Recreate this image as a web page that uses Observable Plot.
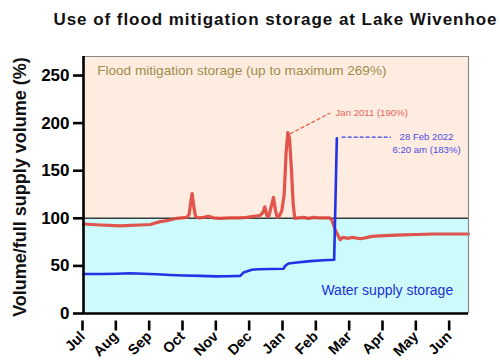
<!DOCTYPE html>
<html><head><meta charset="utf-8">
<script src="https://cdn.jsdelivr.net/npm/d3@7"></script>
<script src="https://cdn.jsdelivr.net/npm/@observablehq/plot@0.6"></script>
<style>
body{margin:0;background:#fff;font-family:"Liberation Sans",Arial,sans-serif;}
#title{width:449px;padding-left:51px;height:40px;line-height:40px;text-align:center;font-weight:bold;font-size:17px;letter-spacing:0.95px;color:#111;white-space:nowrap}
</style></head><body>
<div id="title">Use of flood mitigation storage at Lake Wivenhoe</div>
<div id="chart"></div>
<script>
const monthLabels = ["Jul","Aug","Sep","Oct","Nov","Dec","Jan","Feb","Mar","Apr","May","Jun"];
const yTicks = [0, 50, 100, 150, 200, 250];
const fullSupply = 100;
const yMax = 270;
const xMax = 11.55;

// 2010-11 (Jan 2011 flood), x in months from 1 July
const floodMonths = [0.00,0.25,0.50,0.80,1.10,1.40,1.70,2.00,2.30,2.50,2.80,3.10,3.17,3.22,3.26,3.31,3.36,3.45,3.60,3.75,3.90,4.10,4.40,4.70,4.90,5.10,5.30,5.38,5.44,5.50,5.56,5.63,5.70,5.76,5.81,5.88,5.95,6.02,6.08,6.13,6.18,6.24,6.29,6.34,6.45,6.60,6.75,6.90,7.05,7.20,7.38,7.45,7.55,7.70,7.78,7.86,7.95,8.05,8.15,8.30,8.45,8.65,8.90,9.20,9.60,10.00,10.50,11.00,11.55];
const floodValues = [94,93.5,93,92.5,92,92.5,93,93.5,96.5,97.5,100,101,104,118,126,112,102,100.5,101,102,100.5,100,100.5,100.5,101,102,103,106,112,103,102,112,122,108,101,103,108,125,170,190,184,150,115,100,100.5,101,100,101,100.5,100.5,100.5,98,88,77.5,80,79.5,79,80,79.5,78.5,79.5,81,81.5,82,82.5,83,83.5,83.5,83.5];

// 2021-22 (to 28 Feb 2022)
const currentMonths = [0.00,0.50,1.00,1.40,1.80,2.20,2.60,3.00,3.50,4.00,4.30,4.70,4.80,5.05,5.25,5.60,6.00,6.05,6.15,6.40,6.80,7.20,7.52,7.60];
const currentValues = [41.5,41.5,41.8,42.3,41.8,41.2,40.5,40,39.5,39,39.2,39.5,43,46,46.5,46.8,47,50,52.5,53.5,55,56,56.5,184];

const flood = floodMonths.map((m, i) => ({month: m, value: floodValues[i]}));
const current = currentMonths.map((m, i) => ({month: m, value: currentValues[i]}));
const monthIndex = monthLabels.map((_, i) => i);

const chart = Plot.plot({
  width: 500,
  height: 322,
  marginTop: 16,
  marginBottom: 49,
  marginLeft: 83,
  marginRight: 32,
  style: {fontFamily: "'Liberation Sans', Arial, sans-serif", background: "transparent", overflow: "visible"},
  x: {domain: [0, xMax]},
  y: {domain: [0, yMax]},
  marks: [
    Plot.rect([{lo: fullSupply, hi: yMax}], {x1: 0, x2: xMax, y1: "lo", y2: "hi", fill: "#fdecdf"}),
    Plot.rect([{lo: 0, hi: fullSupply}], {x1: 0, x2: xMax, y1: "lo", y2: "hi", fill: "#cdfbfc"}),
    Plot.ruleY([fullSupply], {stroke: "#3a3a3a", strokeWidth: 1.5}),
    Plot.line(flood, {x: "month", y: "value", stroke: "#e0463f", strokeWidth: 3.2, strokeOpacity: 0.92}),
    Plot.line(current, {x: "month", y: "value", stroke: "#2232e6", strokeWidth: 2.6}),
    Plot.line([{x: 6.21, y: 189}, {x: 7.39, y: 210.4}], {x: "x", y: "y", stroke: "#e8625c", strokeWidth: 1.3, strokeDasharray: "3,3"}),
    Plot.text([{x: 7.56, y: 210.4}], {x: "x", y: "y", text: () => "Jan 2011 (190%)", textAnchor: "start", fill: "#e8625c", fontSize: 9.6}),
    Plot.line([{x: 7.76, y: 185.2}, {x: 9.21, y: 185.2}], {x: "x", y: "y", stroke: "#3a3ee6", strokeWidth: 1.3, strokeDasharray: "3,3"}),
    Plot.text([{x: 10.29, y: 179.6}], {x: "x", y: "y", text: () => "28 Feb 2022\n6:20 am (183%)", textAnchor: "middle", lineHeight: 1.38, fill: "#4a4ae4", fontSize: 9.6}),
    Plot.text([{x: 0.41, y: 254.8}], {x: "x", y: "y", text: () => "Flood mitigation storage (up to maximum 269%)", textAnchor: "start", fill: "#9e8c4c", fontSize: 13.6}),
    Plot.text([{x: 11.09, y: 24.2}], {x: "x", y: "y", text: () => "Water supply storage", textAnchor: "end", fill: "#2030d8", fontSize: 14}),
    Plot.ruleY([yMax], {stroke: "#8a8a8a", strokeWidth: 1.2}),
    Plot.ruleX([xMax], {stroke: "#8a8a8a", strokeWidth: 1.2}),
    Plot.ruleX([0], {stroke: "#000", strokeWidth: 2.6}),
    Plot.ruleY([0], {stroke: "#000", strokeWidth: 2.6}),
    Plot.axisY(yTicks, {tickSize: 10, tickPadding: 4, fontSize: 17, fontWeight: "bold", strokeWidth: 2.6, label: null, color: "#000"}),
    Plot.axisX(monthIndex, {tickFormat: i => monthLabels[i], tickRotate: -45, tickSize: 10, tickPadding: 3, dx: -1, dy: 7.5, fontSize: 14.5, fontWeight: "bold", strokeWidth: 2.6, label: null, color: "#000"}),
    Plot.text(["Volume/full supply volume (%)"], {frameAnchor: "left", textAnchor: "middle", text: d => d, rotate: -90, dx: -63, dy: 2, fontSize: 18, fontWeight: "bold", fill: "#111"})
  ]
});
document.getElementById("chart").appendChild(chart);
</script>
</body></html>
